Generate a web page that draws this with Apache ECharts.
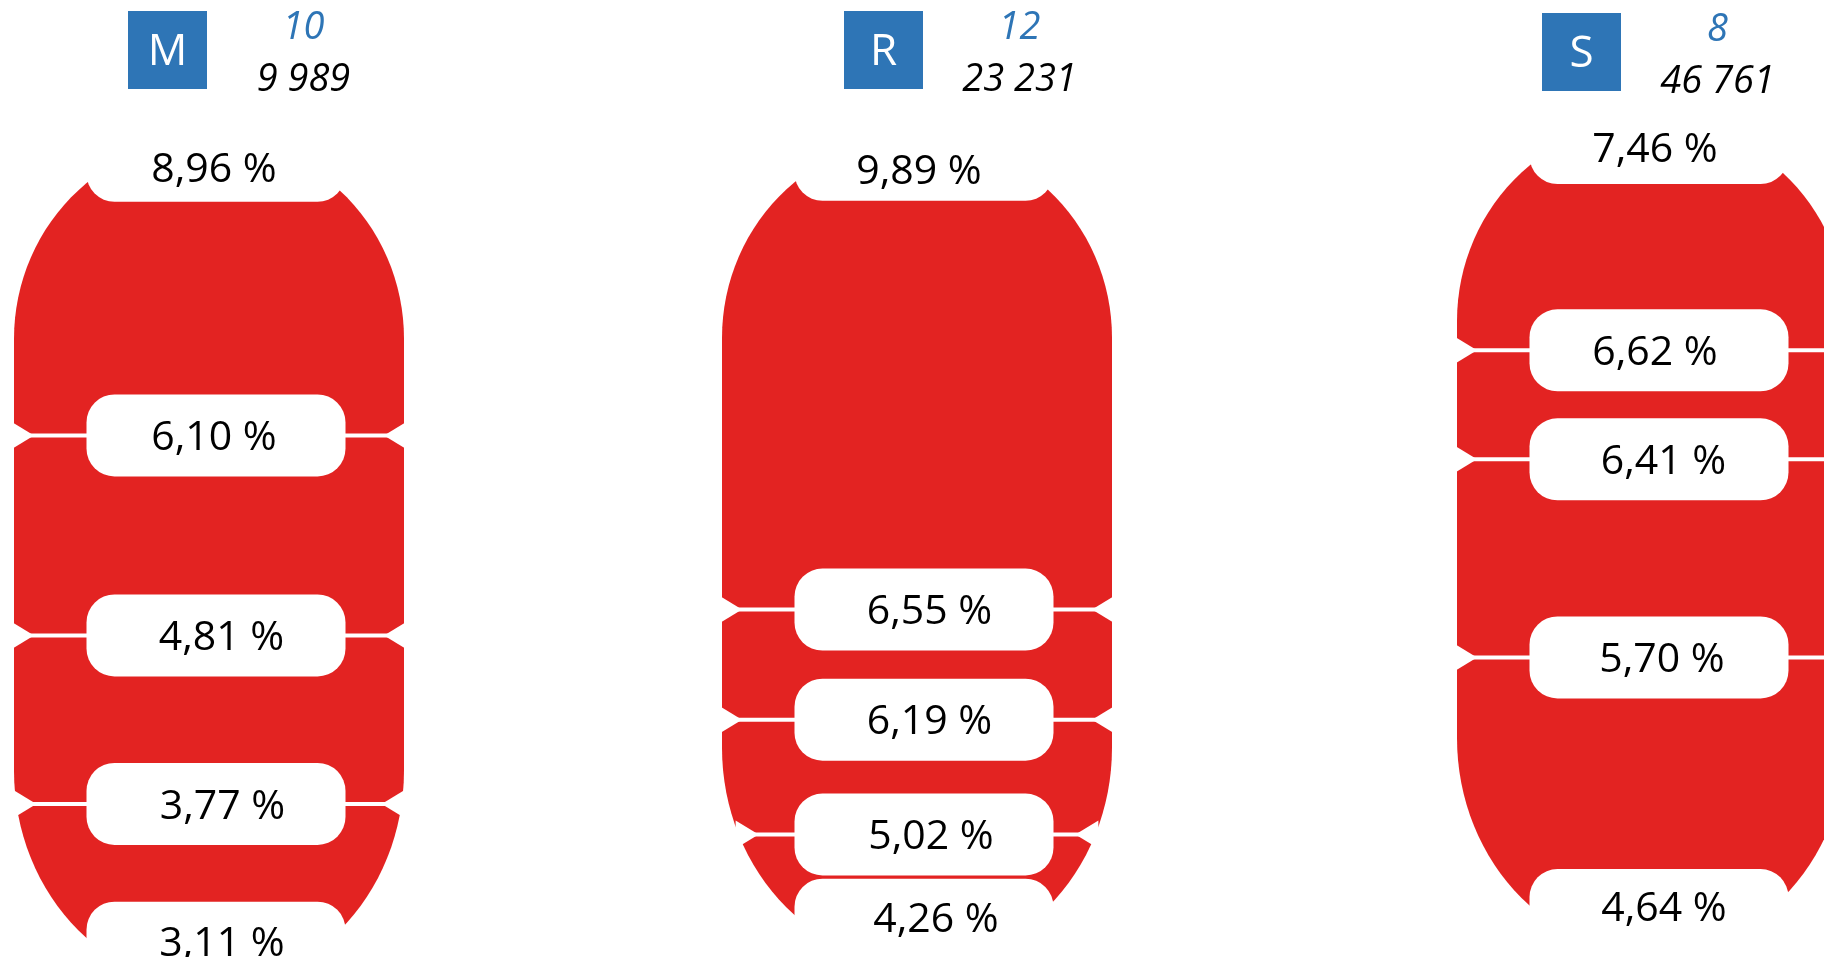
<!DOCTYPE html>
<html><head><meta charset="utf-8">
<script src="https://cdn.jsdelivr.net/npm/echarts@6/dist/echarts.min.js"></script>
<style>html,body{margin:0;padding:0;background:#fff}#c{width:1824px;height:957px}</style>
</head><body><div id="c"></div>
<script>
// ---- data ----
const groups = ['M', 'R', 'S'];
const groupCounts = [10, 12, 8];
const groupTotals = [9989, 23231, 46761];
const valuesM = [8.96, 6.10, 4.81, 3.77, 3.11];
const valuesR = [9.89, 6.55, 6.19, 5.02, 4.26];
const valuesS = [7.46, 6.62, 6.41, 5.70, 4.64];
// vertical level of each label (0 = top, 100 = bottom)
const levelsM = [16.8, 45.5, 66.4, 84.0, 98.5];
const levelsR = [16.7, 63.7, 75.2, 87.2, 96.1];
const levelsS = [14.95, 36.6, 48.0, 68.7, 95.1];

// ---- layout / style ----
const RED = '#E32322', BLUE = '#2E75B6';
const FONT = '"Open Sans", "Segoe UI", sans-serif';
const cols = [
  { values: valuesM, levels: levelsM, cx: 209,  boxDx: -41.5, headDy: 0,
    textDx: [0, 0, 7.5, 8.5, 8], textDy: [9.5, 3, 3, 3, 2] },
  { values: valuesR, levels: levelsR, cx: 917,  boxDx: -33.5, headDy: 0,
    textDx: [-3, 7.5, 7.5, 9, 14], textDy: [13, 3, 3, 3, 1] },
  { values: valuesS, levels: levelsS, cx: 1652, boxDx: -70.5, headDy: 2,
    textDx: [-2, -2, 6.5, 5, 7], textDy: [7, 3, 3, 3, -0.5] }
];
const HALF_SPAN = 0.75, UNIT = 195;   // x axis: body spans [-1, 1]
const TOP_PAD = 22, BOT_PAD = 43, RY_T = 200, RY_B = 215;
const PILL_W = 259, PILL_H = 82, PILL_R = 28, PILL_DX = 7;

function fmtPct(v) { return v.toFixed(2).replace('.', ',') + ' %'; }
function fmtThousands(v) { return String(v).replace(/\B(?=(\d{3})+(?!\d))/g, ' '); }

function edgeHalf(y, top, bottom, half) {
  if (y < top + RY_T) { const d = (top + RY_T - y) / RY_T; return half * Math.sqrt(Math.max(0, 1 - d * d)); }
  if (y > bottom - RY_B) { const d = (y - (bottom - RY_B)) / RY_B; return half * Math.sqrt(Math.max(0, 1 - d * d)); }
  return half;
}
function extent(api, levels) {
  const top = api.coord([0, levels[0]])[1] - TOP_PAD;
  const bottom = api.coord([0, levels[levels.length - 1]])[1] + BOT_PAD;
  return [top, bottom];
}
function txt(text, x, y, font, fill) {
  return { type: 'text', style: { text: text, x: x, y: y, font: font, fill: fill,
    align: 'center', verticalAlign: 'middle', textAlign: 'center', textVerticalAlign: 'middle' } };
}

const grids = [], xAxes = [], yAxes = [], series = [];
cols.forEach(function (c, k) {
  grids.push({ left: c.cx - HALF_SPAN * UNIT, width: 2 * HALF_SPAN * UNIT, top: 0, bottom: 0 });
  xAxes.push({ type: 'value', gridIndex: k, min: -HALF_SPAN, max: HALF_SPAN, show: false });
  yAxes.push({ type: 'value', gridIndex: k, min: 0, max: 100, inverse: true, show: false });
});

// red body
cols.forEach(function (c, k) {
  series.push({
    type: 'custom', xAxisIndex: k, yAxisIndex: k, silent: true, clip: false,
    data: [[0, c.levels[0], c.levels[c.levels.length - 1]]],
    renderItem: function (params, api) {
      const cx = api.coord([0, api.value(1)])[0];
      const ex = extent(api, c.levels);
      const top = ex[0], bottom = ex[1];
      const half = api.size([1, 0])[0];
      const pts = [];
      const N = 60;
      for (let t = 0; t <= N; t++) {
        const a = Math.PI + Math.PI * t / N;
        pts.push([cx + half * Math.cos(a), top + RY_T + RY_T * Math.sin(a)]);
      }
      for (let t = 0; t <= N; t++) {
        const a = Math.PI * t / N;
        pts.push([cx + half * Math.cos(a), bottom - RY_B + RY_B * Math.sin(a)]);
      }
      return { type: 'polygon', shape: { points: pts }, style: { fill: RED } };
    }
  });
});

// joints + pills + labels
cols.forEach(function (c, k) {
  series.push({
    type: 'custom', xAxisIndex: k, yAxisIndex: k, silent: true, clip: false,
    data: c.values.map(function (v, i) { return [0, c.levels[i], v]; }),
    renderItem: function (params, api) {
      const i = params.dataIndex, n = c.values.length;
      const p = api.coord([0, api.value(1)]);
      const cx = p[0], cy = p[1];
      const half = api.size([1, 0])[0];
      const ex = extent(api, c.levels);
      const children = [];
      if (i > 0 && i < n - 1) {
        const eh = edgeHalf(cy, ex[0], ex[1], half);
        children.push({ type: 'rect', shape: { x: cx - half - 4, y: cy - 2, width: 2 * half + 8, height: 4 }, style: { fill: '#fff' } });
        children.push({ type: 'polygon', shape: { points: [[cx - eh - 3, cy - 14], [cx - eh + 20, cy], [cx - eh - 3, cy + 14]] }, style: { fill: '#fff' } });
        children.push({ type: 'polygon', shape: { points: [[cx + eh + 3, cy - 14], [cx + eh - 20, cy], [cx + eh + 3, cy + 14]] }, style: { fill: '#fff' } });
      }
      const px = cx + PILL_DX;
      // end pills are extended outward so they fully cap the body
      let y0 = cy - PILL_H / 2, h = PILL_H;
      if (i === 0) { y0 -= 30; h += 30; }
      if (i === n - 1) { h += 40; }
      children.push({ type: 'rect', shape: { x: px - PILL_W / 2, y: y0, width: PILL_W, height: h, r: PILL_R }, style: { fill: '#fff' } });
      children.push(txt(fmtPct(api.value(2)), px - 2 + c.textDx[i], cy + c.textDy[i], '41px ' + FONT, '#000'));
      return { type: 'group', children: children };
    }
  });
});

// headers
cols.forEach(function (c, k) {
  series.push({
    type: 'custom', xAxisIndex: k, yAxisIndex: k, silent: true, clip: false,
    data: [[0, groupCounts[k], groupTotals[k]]],
    renderItem: function (params, api) {
      const cx = api.coord([0, 0])[0];
      const bx = cx + c.boxDx, dy = c.headDy;
      return { type: 'group', children: [
        { type: 'rect', shape: { x: bx - 39.5, y: 11 + dy, width: 79, height: 78 }, style: { fill: BLUE } },
        txt(groups[k], bx, 52 + dy, '44px ' + FONT, '#fff'),
        txt(String(api.value(1)), bx + 136, 28 + dy, 'italic 38px ' + FONT, BLUE),
        txt(fmtThousands(api.value(2)), bx + 136, 80 + dy, 'italic 38px ' + FONT, '#000')
      ] };
    }
  });
});

const chart = echarts.init(document.getElementById('c'), null, { renderer: 'canvas' });
chart.setOption({
  backgroundColor: '#fff',
  animation: false,
  grid: grids, xAxis: xAxes, yAxis: yAxes, series: series
});
</script>
</body></html>
